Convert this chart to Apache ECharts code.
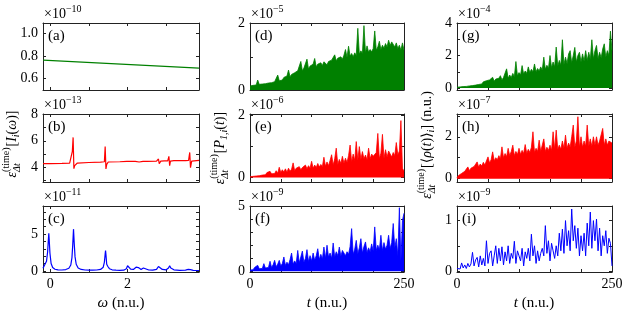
<!DOCTYPE html>
<html><head><meta charset="utf-8">
<script src="https://cdn.jsdelivr.net/npm/echarts@6/dist/echarts.min.js"></script>
<style>html,body{margin:0;padding:0;background:#fff}#c{width:630px;height:315px}</style>
</head><body><div id="c"></div>
<script>
// ---------------- data ----------------
const omegaA = [-0.19, 3.85];
const valuesA = [0.763, 0.692];

const omegaB = [-0.19,0.0,0.3,0.5,0.55,0.57,0.59,0.61,0.63,0.66,0.7,1.0,1.3,1.4,1.42,1.44,1.46,1.5,1.8,1.98,2.0,2.02,2.04,2.2,2.25,2.3,2.4,2.45,2.5,2.75,2.8,2.82,2.84,2.86,2.95,3.04,3.07,3.09,3.11,3.2,3.5,3.58,3.61,3.63,3.66,3.7,3.85];
const valuesB = [4.25,4.26,4.28,4.3,4.32,5.2,6.26,3.87,4.1,4.22,4.3,4.34,4.37,4.4,5.57,3.85,4.2,4.38,4.4,4.42,4.5,4.35,4.42,4.42,4.47,4.38,4.43,4.46,4.43,4.45,4.61,4.25,4.4,4.45,4.46,4.47,4.81,4.1,4.45,4.48,4.48,4.5,5.11,3.95,4.45,4.5,4.5];

const omegaC = [-0.19,-0.15,-0.1,-0.07,-0.05,-0.04,-0.03,-0.01,0.02,0.06,0.12,0.2,0.3,0.4,0.48,0.53,0.56,0.58,0.6,0.62,0.64,0.67,0.72,0.8,0.9,1.0,1.1,1.2,1.3,1.37,1.4,1.42,1.43,1.44,1.46,1.47,1.49,1.53,1.6,1.7,1.8,1.9,1.97,2.0,2.02,2.04,2.08,2.15,2.22,2.25,2.28,2.35,2.41,2.43,2.46,2.55,2.65,2.75,2.8,2.82,2.84,2.9,3.0,3.06,3.09,3.12,3.2,3.35,3.5,3.57,3.6,3.63,3.7,3.85];
const valuesC = [0.35,0.6,1.3,2.6,4.3,5.1,4.3,2.4,1.0,0.45,0.22,0.13,0.12,0.18,0.35,0.8,1.8,3.5,5.66,3.6,1.9,0.9,0.4,0.2,0.12,0.1,0.1,0.12,0.2,0.5,1.2,2.3,2.76,2.2,0.9,0.98,0.6,0.3,0.15,0.1,0.08,0.1,0.3,0.7,0.95,0.6,0.25,0.2,0.5,0.7,0.45,0.2,0.4,0.5,0.3,0.12,0.1,0.2,0.6,0.85,0.5,0.2,0.15,0.4,0.7,0.4,0.15,0.08,0.1,0.2,0.25,0.18,0.08,0.05];

// sampling times t = 0, 2.5, ..., 250 (n.u.)
const timeT = Array.from({length: 101}, (_, k) => k * 2.5);

const valuesD = [0.12,0.16,0.14,0.18,0.15,0.3,0.17,0.2,0.18,0.22,
 0.19,0.24,0.21,0.26,0.22,0.27,0.25,0.3,0.45,0.28,
 0.33,0.3,0.38,0.34,0.42,0.6,0.4,0.47,0.43,0.52,
 0.46,0.58,0.52,0.86,0.58,0.66,0.6,0.93,0.63,0.72,
 0.66,0.78,0.95,0.7,0.78,0.72,0.82,0.74,0.85,0.9,
 0.76,0.86,0.8,0.9,0.84,1.06,0.88,0.96,0.9,1.0,
 0.93,1.05,1.22,0.98,1.32,1.02,1.1,1.0,1.12,1.04,
 1.86,1.08,1.18,1.1,1.94,1.12,1.33,1.14,1.22,1.15,
 1.25,1.78,1.2,1.3,1.47,1.22,1.35,1.26,1.4,1.3,
 1.5,1.34,1.45,1.47,1.3,1.42,1.25,1.35,1.2,1.42,
 1.2];
const valuesE = [0.03,0.06,0.04,0.08,0.05,0.1,0.06,0.12,0.08,0.14,
 0.09,0.16,0.1,0.2,0.12,0.17,0.13,0.22,0.14,0.33,
 0.16,0.25,0.18,0.28,0.17,0.3,0.2,0.27,0.47,0.22,
 0.3,0.24,0.35,0.25,0.32,0.27,0.4,0.28,0.38,0.3,
 0.52,0.3,0.4,0.32,0.45,0.34,0.42,0.35,0.65,0.36,
 0.5,0.38,0.55,0.73,0.4,0.6,0.94,0.42,0.58,0.45,
 0.68,0.46,0.62,0.48,0.7,1.04,0.5,0.75,0.55,1.15,
 0.55,0.99,0.58,0.83,0.6,0.72,0.56,0.94,0.6,0.75,
 0.68,0.62,0.8,1.41,0.6,0.78,1.38,0.62,0.89,0.65,
 0.85,0.9,0.66,0.8,0.7,1.12,0.72,0.85,1.82,0.3,
 0.2];
const valuesF = [0.1,0.2,0.12,0.3,0.15,0.46,0.2,0.35,0.22,0.59,
 0.25,0.4,0.3,0.77,0.3,0.5,0.84,0.35,0.55,0.84,
 0.4,0.6,1.1,0.45,0.7,0.5,0.9,1.4,0.55,0.8,
 0.6,1.6,0.65,1.1,1.55,0.7,1.0,1.66,0.75,1.2,
 0.8,1.4,0.85,1.2,1.73,0.9,1.3,0.95,1.86,1.0,
 2.0,1.1,1.4,1.0,2.17,1.1,1.5,1.2,1.86,1.15,
 1.6,1.75,1.2,1.5,1.3,1.9,3.27,1.3,1.7,2.37,
 1.35,1.8,2.5,1.4,1.9,2.25,1.45,1.8,1.5,2.1,
 1.55,3.4,1.6,2.0,1.65,2.76,1.6,2.2,1.7,2.0,
 2.76,1.75,2.2,3.66,1.8,2.5,1.2,4.87,0.8,3.9,
 4.45];
const valuesG = [0.05,0.1,0.07,0.12,0.09,0.15,0.1,0.18,0.13,0.2,
 0.15,0.25,0.18,0.3,0.22,0.32,0.25,0.38,0.3,0.45,
 0.35,0.5,0.4,0.66,0.42,0.55,0.45,0.6,0.76,0.5,
 0.65,0.55,1.18,0.6,0.8,0.65,0.9,0.7,1.63,0.75,
 0.95,0.8,1.38,0.85,1.05,0.9,1.3,0.95,1.15,1.0,
 1.48,1.0,1.2,1.05,1.3,1.1,1.9,1.15,1.4,1.2,
 2.0,1.25,1.6,1.3,2.52,1.35,1.7,1.4,2.97,1.45,
 1.9,1.5,2.1,2.3,1.55,2.0,2.5,1.6,2.0,2.2,
 1.6,2.1,1.65,2.3,1.7,2.2,1.75,2.97,1.8,2.3,
 2.62,1.8,2.2,1.85,2.4,2.72,1.9,2.3,2.0,3.5,
 2.3];
const valuesH = [0.05,0.15,0.12,0.25,0.2,0.35,0.3,0.56,0.38,0.5,
 0.42,0.58,0.5,0.8,0.55,0.7,0.6,0.78,0.65,0.85,
 1.04,0.75,0.9,1.28,0.85,1.0,0.9,1.1,0.95,1.52,
 1.0,1.2,1.05,1.45,1.1,1.3,1.6,1.1,1.3,1.15,
 1.45,1.15,1.35,1.2,1.63,1.2,1.4,1.25,1.5,2.24,
 1.25,1.45,1.3,1.84,1.3,1.6,1.9,1.3,1.5,1.35,
 1.6,1.35,2.24,1.4,2.32,1.4,1.6,1.4,1.8,1.45,
 2.08,1.45,1.7,1.5,2.0,2.56,1.5,1.8,2.96,1.5,
 2.0,1.5,1.8,1.55,2.56,1.55,1.9,1.55,2.0,1.6,
 2.0,1.6,1.8,2.1,2.4,1.6,1.9,1.6,1.8,1.76,
 1.7];
const valuesI = [0.05,0.08,0.04,0.16,0.06,0.12,0.05,0.15,0.08,0.14,
 0.37,0.1,0.22,0.27,0.08,0.3,0.12,0.25,0.1,0.6,
 0.15,0.35,0.4,0.1,0.3,0.5,0.15,0.45,0.2,0.48,
 0.12,0.38,0.2,0.5,0.15,0.35,0.25,0.59,0.15,0.4,
 0.3,0.2,0.45,0.1,0.38,0.25,0.45,0.2,0.73,0.3,
 0.5,0.15,0.4,0.2,0.35,0.45,0.3,0.9,0.35,0.6,
 0.2,0.55,0.4,0.25,0.5,0.3,0.75,0.4,0.83,0.35,
 1.0,0.5,0.8,0.4,1.23,0.6,0.9,0.45,0.85,0.3,
 0.7,0.4,0.75,0.3,0.95,0.5,1.17,0.45,1.0,0.6,
 1.03,0.4,0.85,0.3,0.7,0.5,0.8,0.35,0.65,0.55,
 0.1];

// tick values and labels
const xTicksOmega = [0, 1, 2, 3];
const xLabelsOmega = [0, 2];
const xTicksT = [0, 50, 100, 150, 200, 250];
const xLabelsT = [0, 250];
const yTicksA = [0.6, 0.8, 1.0], yLabelsA = [0.6, 0.8, 1.0];
const yTicksB = [3, 4, 5, 6, 7, 8], yLabelsB = [4, 6, 8];
const yTicksC = [0, 1, 2, 3, 4, 5, 6, 7, 8], yLabelsC = [0, 5];
const yTicksD = [0, 1, 2], yLabelsD = [0, 2];
const yTicksE = [0, 1, 2], yLabelsE = [0, 2];
const yTicksF = [0, 1, 2, 3, 4, 5], yLabelsF = [0, 5];
const yTicksG = [0, 1, 2, 3, 4], yLabelsG = [0, 2, 4];
const yTicksH = [0, 1, 2, 3], yLabelsH = [0, 2];
const yTicksI = [0, 0.5, 1], yLabelsI = [0, 1];
const exponents = ['−10', '−13', '−11', '−5', '−6', '−9', '−4', '−7', '−9'];
const letters = ['(a)', '(b)', '(c)', '(d)', '(e)', '(f)', '(g)', '(h)', '(i)'];

// ---------------- layout ----------------
const FF = "'Liberation Serif','DejaVu Serif',serif";
const GREEN = '#008000', RED = '#ff0000', BLUE = '#0000ff';
const colLeft = [43, 250, 457], colWidth = [156, 154, 155];
const rowTop = [23, 114, 206], rowHeight = [67, 68, 66];

const panels = [
  {col:0,row:0,xs:omegaA,ys:valuesA,color:GREEN,xmin:-0.19,xmax:3.85,ymin:0.5,ymax:1.09,yT:yTicksA,yL:yLabelsA,dec:1,area:false,lw:1.2,xT:xTicksOmega,xL:xLabelsOmega},
  {col:0,row:1,xs:omegaB,ys:valuesB,color:RED,xmin:-0.19,xmax:3.85,ymin:2.85,ymax:8.05,yT:yTicksB,yL:yLabelsB,dec:0,area:false,lw:1.2,xT:xTicksOmega,xL:xLabelsOmega},
  {col:0,row:2,xs:omegaC,ys:valuesC,color:BLUE,xmin:-0.19,xmax:3.85,ymin:-0.15,ymax:8.8,yT:yTicksC,yL:yLabelsC,dec:0,area:false,lw:1.2,xT:xTicksOmega,xL:xLabelsOmega},
  {col:1,row:0,xs:timeT,ys:valuesD,color:GREEN,xmin:0,xmax:250,ymin:0,ymax:2.02,yT:yTicksD,yL:yLabelsD,dec:0,area:true,lw:0.8,xT:xTicksT,xL:xLabelsT},
  {col:1,row:1,xs:timeT,ys:valuesE,color:RED,xmin:0,xmax:250,ymin:-0.14,ymax:2.03,yT:yTicksE,yL:yLabelsE,dec:0,area:true,lw:0.8,xT:xTicksT,xL:xLabelsT},
  {col:1,row:2,xs:timeT,ys:valuesF,color:BLUE,xmin:0,xmax:250,ymin:-0.05,ymax:5.0,yT:yTicksF,yL:yLabelsF,dec:0,area:true,lw:0.8,xT:xTicksT,xL:xLabelsT},
  {col:2,row:0,xs:timeT,ys:valuesG,color:GREEN,xmin:0,xmax:250,ymin:-0.12,ymax:4.0,yT:yTicksG,yL:yLabelsG,dec:0,area:true,lw:0.8,xT:xTicksT,xL:xLabelsT},
  {col:2,row:1,xs:timeT,ys:valuesH,color:RED,xmin:0,xmax:250,ymin:-0.16,ymax:3.09,yT:yTicksH,yL:yLabelsH,dec:0,area:true,lw:0.8,xT:xTicksT,xL:xLabelsT},
  {col:2,row:2,xs:timeT,ys:valuesI,color:BLUE,xmin:0,xmax:250,ymin:-0.02,ymax:1.29,yT:yTicksI,yL:yLabelsI,dec:0,area:false,lw:1.0,xT:xTicksT,xL:xLabelsT}
];

const mctx = document.createElement('canvas').getContext('2d');
function tw(text, font) { mctx.font = font; return mctx.measureText(text).width; }
const R14 = '14px ' + FF, I14 = 'italic 14px ' + FF, R10 = '10px ' + FF, I10 = 'italic 10px ' + FF;

// build a math-like label from tokens: [text, font, dy] or {stack:[[text,font,dy],...]}
function mathChildren(tokens) {
  let x = 0; const items = [];
  tokens.forEach(tok => {
    if (tok.stack) {
      let w = 0;
      tok.stack.forEach(s => { items.push({t:s[0], f:s[1], x:x, dy:s[2]}); w = Math.max(w, tw(s[0], s[1])); });
      x += w + 1;
    } else {
      items.push({t:tok[0], f:tok[1], x:x, dy:tok[2] || 0});
      x += tw(tok[0], tok[1]);
    }
  });
  const W = x;
  return items.map(it => ({
    type:'text', x: it.x - W / 2, y: it.dy,
    style:{text: it.t, font: it.f, fill:'#000', align:'left', verticalAlign:'middle'}
  }));
}

const grid = [], xAxis = [], yAxis = [], series = [], graphic = [];
panels.forEach((p, i) => {
  const L = colLeft[p.col], T = rowTop[p.row], W = colWidth[p.col], H = rowHeight[p.row];
  grid.push({left:L, top:T, width:W, height:H});
  const axLine = {show:true, onZero:false, lineStyle:{color:'#222', width:1}};
  const tick = vals => ({show:true, inside:true, length:3, customValues:vals, lineStyle:{color:'#222', width:1}});
  const lbl = {fontFamily:FF, fontSize:14, color:'#000'};
  xAxis.push({type:'value', gridIndex:i, position:'bottom', min:p.xmin, max:p.xmax, axisLine:axLine,
    axisTick:tick(p.xT), axisLabel:Object.assign({show:p.row === 2, customValues:p.xL, margin:5}, lbl), splitLine:{show:false}});
  xAxis.push({type:'value', gridIndex:i, position:'top', min:p.xmin, max:p.xmax, axisLine:axLine,
    axisTick:tick(p.xT), axisLabel:{show:false}, splitLine:{show:false}});
  yAxis.push({type:'value', gridIndex:i, position:'left', min:p.ymin, max:p.ymax, axisLine:axLine,
    axisTick:tick(p.yT), axisLabel:Object.assign({customValues:p.yL, margin:5,
      formatter: v => p.dec ? Number(v).toFixed(p.dec) : String(Math.round(v * 100) / 100)}, lbl), splitLine:{show:false}});
  yAxis.push({type:'value', gridIndex:i, position:'right', min:p.ymin, max:p.ymax, axisLine:axLine,
    axisTick:tick(p.yT), axisLabel:{show:false}, splitLine:{show:false}});
  const s = {type:'line', xAxisIndex:2 * i, yAxisIndex:2 * i, data:p.xs.map((x, k) => [x, p.ys[k]]),
    showSymbol:false, symbol:'none', silent:true, clip:true, animation:false,
    lineStyle:{color:p.color, width:p.lw}, z:1};
  if (p.area) s.areaStyle = {color:p.color, opacity:1};
  series.push(s);
  // panel letter
  graphic.push({type:'text', x:L + 5, y:T + 13, z:100,
    style:{text:letters[i], font:'15px ' + FF, fill:'#000', align:'left', verticalAlign:'middle'}});
  // exponent
  const wx = tw('×10', R14);
  graphic.push({type:'text', x:L + 1, y:T - 9, style:{text:'×10', font:R14, fill:'#000', align:'left', verticalAlign:'middle'}});
  graphic.push({type:'text', x:L + 1 + wx, y:T - 14, style:{text:exponents[i], font:R10, fill:'#000', align:'left', verticalAlign:'middle'}});
});

// axis titles
const stackEps = {stack:[['(time)', R10, -6], ['Δt', I10, 5]]};
const yLab1 = [['ε', I14], stackEps, ['[', R14], ['I', I14], ['i', I10, 4], ['(', R14], ['ω', I14], [')]', R14]];
const yLab2 = [['ε', I14], stackEps, ['[', R14], ['P', I14], ['1,i', I10, 4], ['(', R14], ['t', I14], [')]', R14]];
const yLab3 = [['ε', I14], stackEps, ['[⟨', R14], ['ρ', I14], ['(', R14], ['t', I14], [')⟩', R14], ['i', I10, 4], [']', R14], [' (n.u.)', R14]];
graphic.push({type:'group', x:12, y:144, rotation:Math.PI / 2, children:mathChildren(yLab1)});
graphic.push({type:'group', x:220, y:148, rotation:Math.PI / 2, children:mathChildren(yLab2)});
graphic.push({type:'group', x:427, y:145, rotation:Math.PI / 2, children:mathChildren(yLab3)});
const xLabW = [['ω', 'italic 15px ' + FF], [' (n.u.)', '15px ' + FF]];
const xLabT = [['t', 'italic 15px ' + FF], [' (n.u.)', '15px ' + FF]];
graphic.push({type:'group', x:121, y:303, children:mathChildren(xLabW)});
graphic.push({type:'group', x:327, y:303, children:mathChildren(xLabT)});
graphic.push({type:'group', x:534, y:303, children:mathChildren(xLabT)});

const chart = echarts.init(document.getElementById('c'), null, {renderer:'canvas'});
chart.setOption({animation:false, backgroundColor:'#fff', grid, xAxis, yAxis, series, graphic});
</script>
</body></html>
